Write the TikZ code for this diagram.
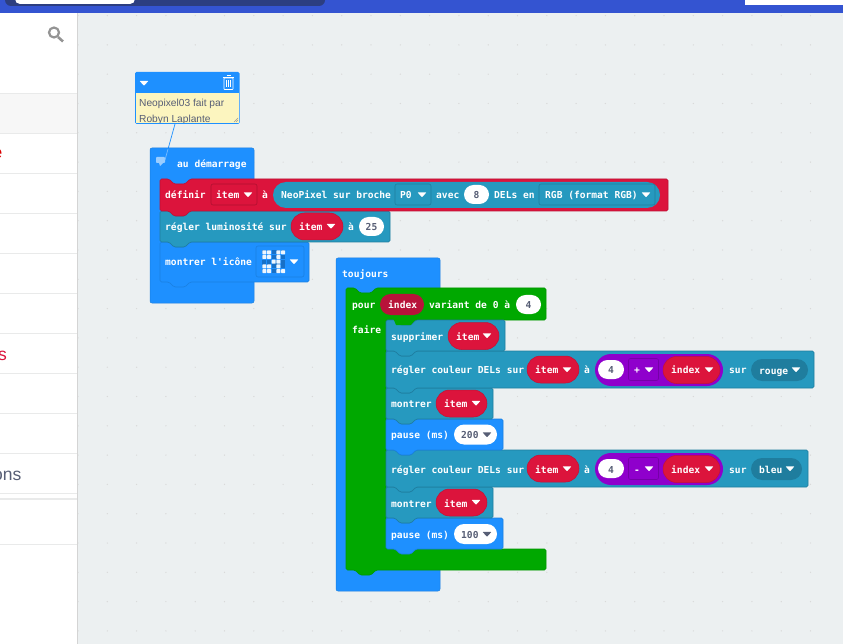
\documentclass[tikz,border=0pt]{standalone}
\usepackage{fontspec}
\usetikzlibrary{shapes.misc}
\newfontfamily\blockfont{DejaVu Sans Mono}
\newfontfamily\uifont{Liberation Sans}
\definecolor{workspace}{HTML}{ECF0F1}
\definecolor{topbar}{HTML}{3454D1}
\definecolor{topdark}{HTML}{2C3E80}
\definecolor{rulegrey}{HTML}{E9EAEA}
\definecolor{blockblue}{HTML}{1E90FF}
\definecolor{blockblueedge}{HTML}{1A7FE0}
\definecolor{crimson}{HTML}{DC143C}
\definecolor{crimsonedge}{HTML}{B01030}
\definecolor{crimsondark}{HTML}{B8133A}
\definecolor{neoteal}{HTML}{2699BF}
\definecolor{neotealedge}{HTML}{1F7D9E}
\definecolor{tealdark}{HTML}{1F7D9E}
\definecolor{blockgreen}{HTML}{00A800}
\definecolor{mathpurple}{HTML}{8F00CC}
\definecolor{mathedge}{HTML}{7500A8}
\definecolor{valuetext}{HTML}{575E75}
\definecolor{notebg}{HTML}{FCF5BF}
\tikzset{
  x=1pt,y=-1pt,
  blocktext/.style={font=\blockfont\bfseries\fontsize{9.6}{11}\selectfont,text=white,inner sep=0pt,anchor=base west,yshift=-.5pt},
  valuetxt/.style={blocktext,text=valuetext,anchor=base},
  pill/.style={rounded rectangle,inner sep=0pt,minimum height=#1},
  whitepill/.style={pill=19pt,fill=white},
  itempill/.style={pill=27pt,fill=crimson,draw=crimsonedge!60!crimson,line width=.5pt},
  ddbox/.style={draw,rounded corners=2pt,inner sep=0pt,line width=.6pt},
  uitext/.style={font=\uifont\fontsize{17.5}{20}\selectfont,inner sep=0pt,anchor=base east},
  notetext/.style={font=\uifont\fontsize{10.2}{12}\selectfont,text=valuetext,inner sep=0pt,anchor=base west},
}
% block outline with a notch on top and a tab below
\newcommand{\blockbody}[5]{
  \draw[#1,rounded corners=1.5pt,line width=.6pt] (#2,#3) -- ({#2+9},#3) -- ({#2+14},{#3+5}) -- ({#2+25},{#3+5}) -- ({#2+30},#3)
    -- (#4,#3) -- (#4,#5) -- ({#2+30},#5) -- ({#2+25},{#5+5}) -- ({#2+14},{#5+5}) -- ({#2+9},#5) -- (#2,#5) -- cycle;
}
% small dropdown triangle
\newcommand{\ddmark}[3]{
  \fill[#1,rounded corners=.6pt] ({#2-4.5},{#3-2.2}) -- ({#2+4.5},{#3-2.2}) -- (#2,{#3+2.8}) -- cycle;
}
\begin{document}
\begin{tikzpicture}
  \useasboundingbox (0,0) rectangle (843,644);
  \fill[workspace] (0,0) rectangle (843,644);
  % workspace dots
  \foreach \i in {0,...,25}
    \foreach \j in {0,...,21}
      \fill[black!15] ({78+29.3*\i},{15.6+29.3*\j}) circle (.7pt);

  % top bar
  \fill[topbar] (0,0) rectangle (843,13);
  \fill[topdark,rounded corners=6pt] (5,-8) rectangle (325,6);
  \fill[white,rounded corners=5pt] (15,-8) rectangle (135,4);
  \fill[white] (745,0) rectangle (843,5);

  % side panel
  \fill[white] (0,13) rectangle (77,644);
  \fill[black!17] (77,13) rectangle (78.2,644);
  \fill[black!3] (0,93) rectangle (77,133);
  \foreach \y in {93,133,173,213,253,293,333,373,413,453,493,544}
    \draw[rulegrey,line width=.8pt] (0,\y) -- (77,\y);
  \draw[rulegrey,line width=1.2pt] (0,499) -- (77,499);
  \draw[black!42,line width=2.2pt] (54,32.5) circle (5pt);
  \draw[black!42,line width=2.6pt] (58,37) -- (63,41.5);
  \node[uitext,text=red!85!black] (sideE) at (2.5,159) {e};
  \node[uitext,text=crimson] (sideS) at (7,360) {s};
  \node[uitext,text=valuetext] (sideOns) at (21.5,480) {ons};

  % comment box
  \draw[blockblue,line width=.7pt] (175,124) -- (165,160);
  \fill[blockblue,rounded corners=1.5pt] (135,72) rectangle (239.5,124);
  \fill[notebg] (136,93) rectangle (238.7,123);
  \ddmark{white}{144}{83}
  \draw[white,line width=.7pt,rounded corners=.5pt] (224,78) rectangle (233,89.5);
  \draw[white,line width=.7pt] (222.8,77.5) -- (234.2,77.5) (226.5,75.5) -- (230.5,75.5);
  \foreach \x in {226.6,228.5,230.4}
    \draw[white,line width=.6pt] (\x,80) -- (\x,87.5);
  \begin{scope}
    \clip (136,93) rectangle (238.7,122.5);
    \node[notetext] (noteA) at (139,107) {Neopixel03 fait par};
    \node[notetext] (noteB) at (139,122.5) {Robyn Laplante};
  \end{scope}
  \draw[black!40,line width=.4pt] (234,122) -- (238,118) (236,122) -- (238,120);

  % au demarrage
  \fill[blockblue,draw=blockblueedge,line width=.5pt,rounded corners=2pt] (150,148) rectangle (254,303);
  \fill[white!55!blockblue,rounded corners=.8pt] (156,157) rectangle (165,163);
  \fill[white!55!blockblue] (159,163) -- (163,163) -- (160,166) -- cycle;
  \draw[blockblue!60!white,line width=.7pt] (168,149) -- (165,160);
  \node[blocktext] (startLabel) at (177,167.5) {au démarrage};

  \blockbody{fill=blockblue,draw=blockblueedge}{160}{242}{309}{282}
  \blockbody{fill=neoteal,draw=neotealedge}{160}{211}{390}{242}
  \blockbody{fill=crimson,draw=crimsonedge!70!crimson}{160}{179}{668}{211}

  \node[blocktext] (setLabel) at (165,198) {définir};
  \node[ddbox,draw=crimsonedge,minimum width=46pt,minimum height=21pt] (setVar) at (234,194.5) {};
  \node[blocktext] (setVarText) at (216,198) {item};
  \ddmark{white}{248}{194.5}
  \node[blocktext] (setTo) at (262,198) {à};
  \node[pill=26pt,fill=neoteal,minimum width=387pt] (neoPill) at (466.5,195) {};
  \node[blocktext] (neoLabel) at (281,198) {NeoPixel sur broche};
  \node[ddbox,draw=neotealedge,minimum width=36pt,minimum height=21pt] (pinBox) at (413,194.5) {};
  \node[blocktext] (pinText) at (400,198) {P0};
  \ddmark{white}{422}{194.5}
  \node[blocktext] (withLabel) at (436,198) {avec};
  \node[whitepill,minimum width=25pt] (countPill) at (476.5,194.5) {};
  \node[valuetxt] (countText) at (476.5,198) {8};
  \node[blocktext] (ledsLabel) at (494,198) {DELs en};
  \node[ddbox,draw=neotealedge,minimum width=116pt,minimum height=21pt] (modeBox) at (597,194.5) {};
  \node[blocktext] (modeText) at (545,198) {RGB (format RGB)};
  \ddmark{white}{646}{194.5}

  \node[blocktext] (brightLabel) at (165,230) {régler luminosité sur};
  \node[itempill,minimum width=52pt] (brightVar) at (317,226.5) {};
  \node[blocktext] (brightVarText) at (299,230) {item};
  \ddmark{white}{331}{226}
  \node[blocktext] (brightTo) at (348,230) {à};
  \node[whitepill,minimum width=25pt] (brightPill) at (371.5,226.5) {};
  \node[valuetxt] (brightText) at (371.5,230) {25};

  \node[blocktext] (iconLabel) at (165,265) {montrer l'icône};
  \node[ddbox,draw=blockblueedge,minimum width=48pt,minimum height=31pt] (iconBox) at (280,261.5) {};
  \foreach \r/\rowleds in {0/{0,1,3,4},1/{0,1,3},2/{2,3},3/{0,1,3},4/{0,1,3,4}}{
    \foreach \c in {0,1,2,3,4}
      \fill[black!22!blockblue] ({262.3+4.7*\c},{250.3+4.7*\r}) rectangle ++(4,4);
    \foreach \c in \rowleds
      \fill[white!92!blockblue,rounded corners=.6pt] ({262.3+4.7*\c},{250.3+4.7*\r}) rectangle ++(4,4);
  }
  \ddmark{white}{294}{261.5}

  % toujours
  \fill[blockblue,draw=blockblueedge,line width=.5pt,rounded corners=2pt] (336,258) rectangle (440,591);
  \node[blocktext] (foreverLabel) at (342,277) {toujours};

  % pour
  \draw[fill=blockgreen,draw=blockgreen!90!black,line width=.6pt,rounded corners=1.5pt]
    (346,288) -- (355,288) -- (360,293) -- (371,293) -- (376,288) -- (546,288) -- (546,320) -- (416,320)
    -- (411,325) -- (400,325) -- (395,320) -- (386,320) -- (386,549) -- (546,549) -- (546,570)
    -- (376,570) -- (371,575) -- (360,575) -- (355,570) -- (346,570) -- cycle;
  \node[blocktext] (forLabel) at (352,308) {pour};
  \node[pill=21pt,fill=crimsondark,minimum width=44pt] (forVar) at (402,304.5) {};
  \node[blocktext] (forVarText) at (388,308) {index};
  \node[blocktext] (forRange) at (429,308) {variant de 0 à};
  \node[whitepill,minimum width=25pt] (forPill) at (528.5,304.5) {};
  \node[valuetxt] (forText) at (528.5,308) {4};
  \node[blocktext] (doLabel) at (352,333) {faire};

  % inner stack, drawn from the bottom up
  \blockbody{fill=blockblue,draw=blockblueedge}{386}{518}{503}{549}
  \blockbody{fill=neoteal,draw=neotealedge}{386}{487}{493}{518}
  \blockbody{fill=neoteal,draw=neotealedge}{386}{450}{808}{487}
  \blockbody{fill=blockblue,draw=blockblueedge}{386}{419}{503}{450}
  \blockbody{fill=neoteal,draw=neotealedge}{386}{388}{493}{419}
  \blockbody{fill=neoteal,draw=neotealedge}{386}{351}{814}{388}
  \blockbody{fill=neoteal,draw=neotealedge}{386}{320}{505}{351}
  % tab of pour, above the first inner block
  \fill[blockgreen] (393.5,319) -- (396,325) -- (411,325) -- (415,319) -- cycle;

  \node[blocktext] (clearLabel) at (391,339.5) {supprimer};
  \node[itempill,minimum width=51pt] (clearVar) at (473.5,336) {};
  \node[blocktext] (clearVarText) at (456,339.5) {item};
  \ddmark{white}{487}{335.5}

  \node[blocktext] (pixelLabel) at (391,373) {régler couleur DELs sur};
  \node[itempill,minimum width=52pt] (pixelVar) at (553,369.5) {};
  \node[blocktext] (pixelVarText) at (535,373) {item};
  \ddmark{white}{567}{369.5}
  \node[blocktext] (pixelTo) at (584,373) {à};
  \node[pill=32pt,fill=mathpurple,minimum width=128pt] (sumPill) at (659,370) {};
  \node[whitepill,minimum width=26pt] (sumValue) at (611,369.5) {};
  \node[valuetxt] (sumText) at (611,373) {4};
  \node[ddbox,draw=mathedge,minimum width=30pt,minimum height=22pt] (sumOp) at (643.5,369.5) {};
  \node[blocktext] (sumOpText) at (634,373) {+};
  \ddmark{white}{649}{369.5}
  \node[itempill,minimum width=57pt] (sumVar) at (691.5,370) {};
  \node[blocktext] (sumVarText) at (671,373) {index};
  \ddmark{white}{709}{369.5}
  \node[blocktext] (pixelOn) at (729,373) {sur};
  \node[pill=22pt,fill=tealdark,minimum width=57pt] (redPill) at (779.5,370) {};
  \node[blocktext] (redText) at (759,373.5) {rouge};
  \ddmark{white}{796}{369.5}

  \node[blocktext] (showA) at (391,407) {montrer};
  \node[itempill,minimum width=51pt] (showAVar) at (461.5,403.5) {};
  \node[blocktext] (showAVarText) at (444,407) {item};
  \ddmark{white}{476}{403}

  \node[blocktext] (pauseA) at (391,438) {pause (ms)};
  \node[whitepill,minimum width=43pt,minimum height=20pt] (pauseAPill) at (475.5,434.5) {};
  \node[valuetxt,anchor=base west] (pauseAText) at (461,438) {200};
  \ddmark{valuetext}{487}{434.5}

  \node[blocktext] (pixelBLabel) at (391,472.5) {régler couleur DELs sur};
  \node[itempill,minimum width=52pt] (pixelBVar) at (553,468.5) {};
  \node[blocktext] (pixelBVarText) at (535,472.5) {item};
  \ddmark{white}{567}{468.5}
  \node[blocktext] (pixelBTo) at (584,472.5) {à};
  \node[pill=32pt,fill=mathpurple,minimum width=128pt] (diffPill) at (659,469) {};
  \node[whitepill,minimum width=26pt] (diffValue) at (611,468.5) {};
  \node[valuetxt] (diffText) at (611,472.5) {4};
  \node[ddbox,draw=mathedge,minimum width=30pt,minimum height=22pt] (diffOp) at (643.5,468.5) {};
  \node[blocktext] (diffOpText) at (634,472.5) {-};
  \ddmark{white}{649}{468.5}
  \node[itempill,minimum width=57pt] (diffVar) at (691.5,469) {};
  \node[blocktext] (diffVarText) at (671,472.5) {index};
  \ddmark{white}{709}{468.5}
  \node[blocktext] (pixelBOn) at (729,472.5) {sur};
  \node[pill=22pt,fill=tealdark,minimum width=51pt] (bluePill) at (776.5,469) {};
  \node[blocktext] (blueText) at (759,472.5) {bleu};
  \ddmark{white}{790}{468.5}

  \node[blocktext] (showB) at (391,506.5) {montrer};
  \node[itempill,minimum width=51pt] (showBVar) at (461.5,502.5) {};
  \node[blocktext] (showBVarText) at (444,506.5) {item};
  \ddmark{white}{476}{502}

  \node[blocktext] (pauseB) at (391,537.5) {pause (ms)};
  \node[whitepill,minimum width=43pt,minimum height=20pt] (pauseBPill) at (475.5,534) {};
  \node[valuetxt,anchor=base west] (pauseBText) at (461,537.5) {100};
  \ddmark{valuetext}{487}{534}
\end{tikzpicture}
\end{document}
